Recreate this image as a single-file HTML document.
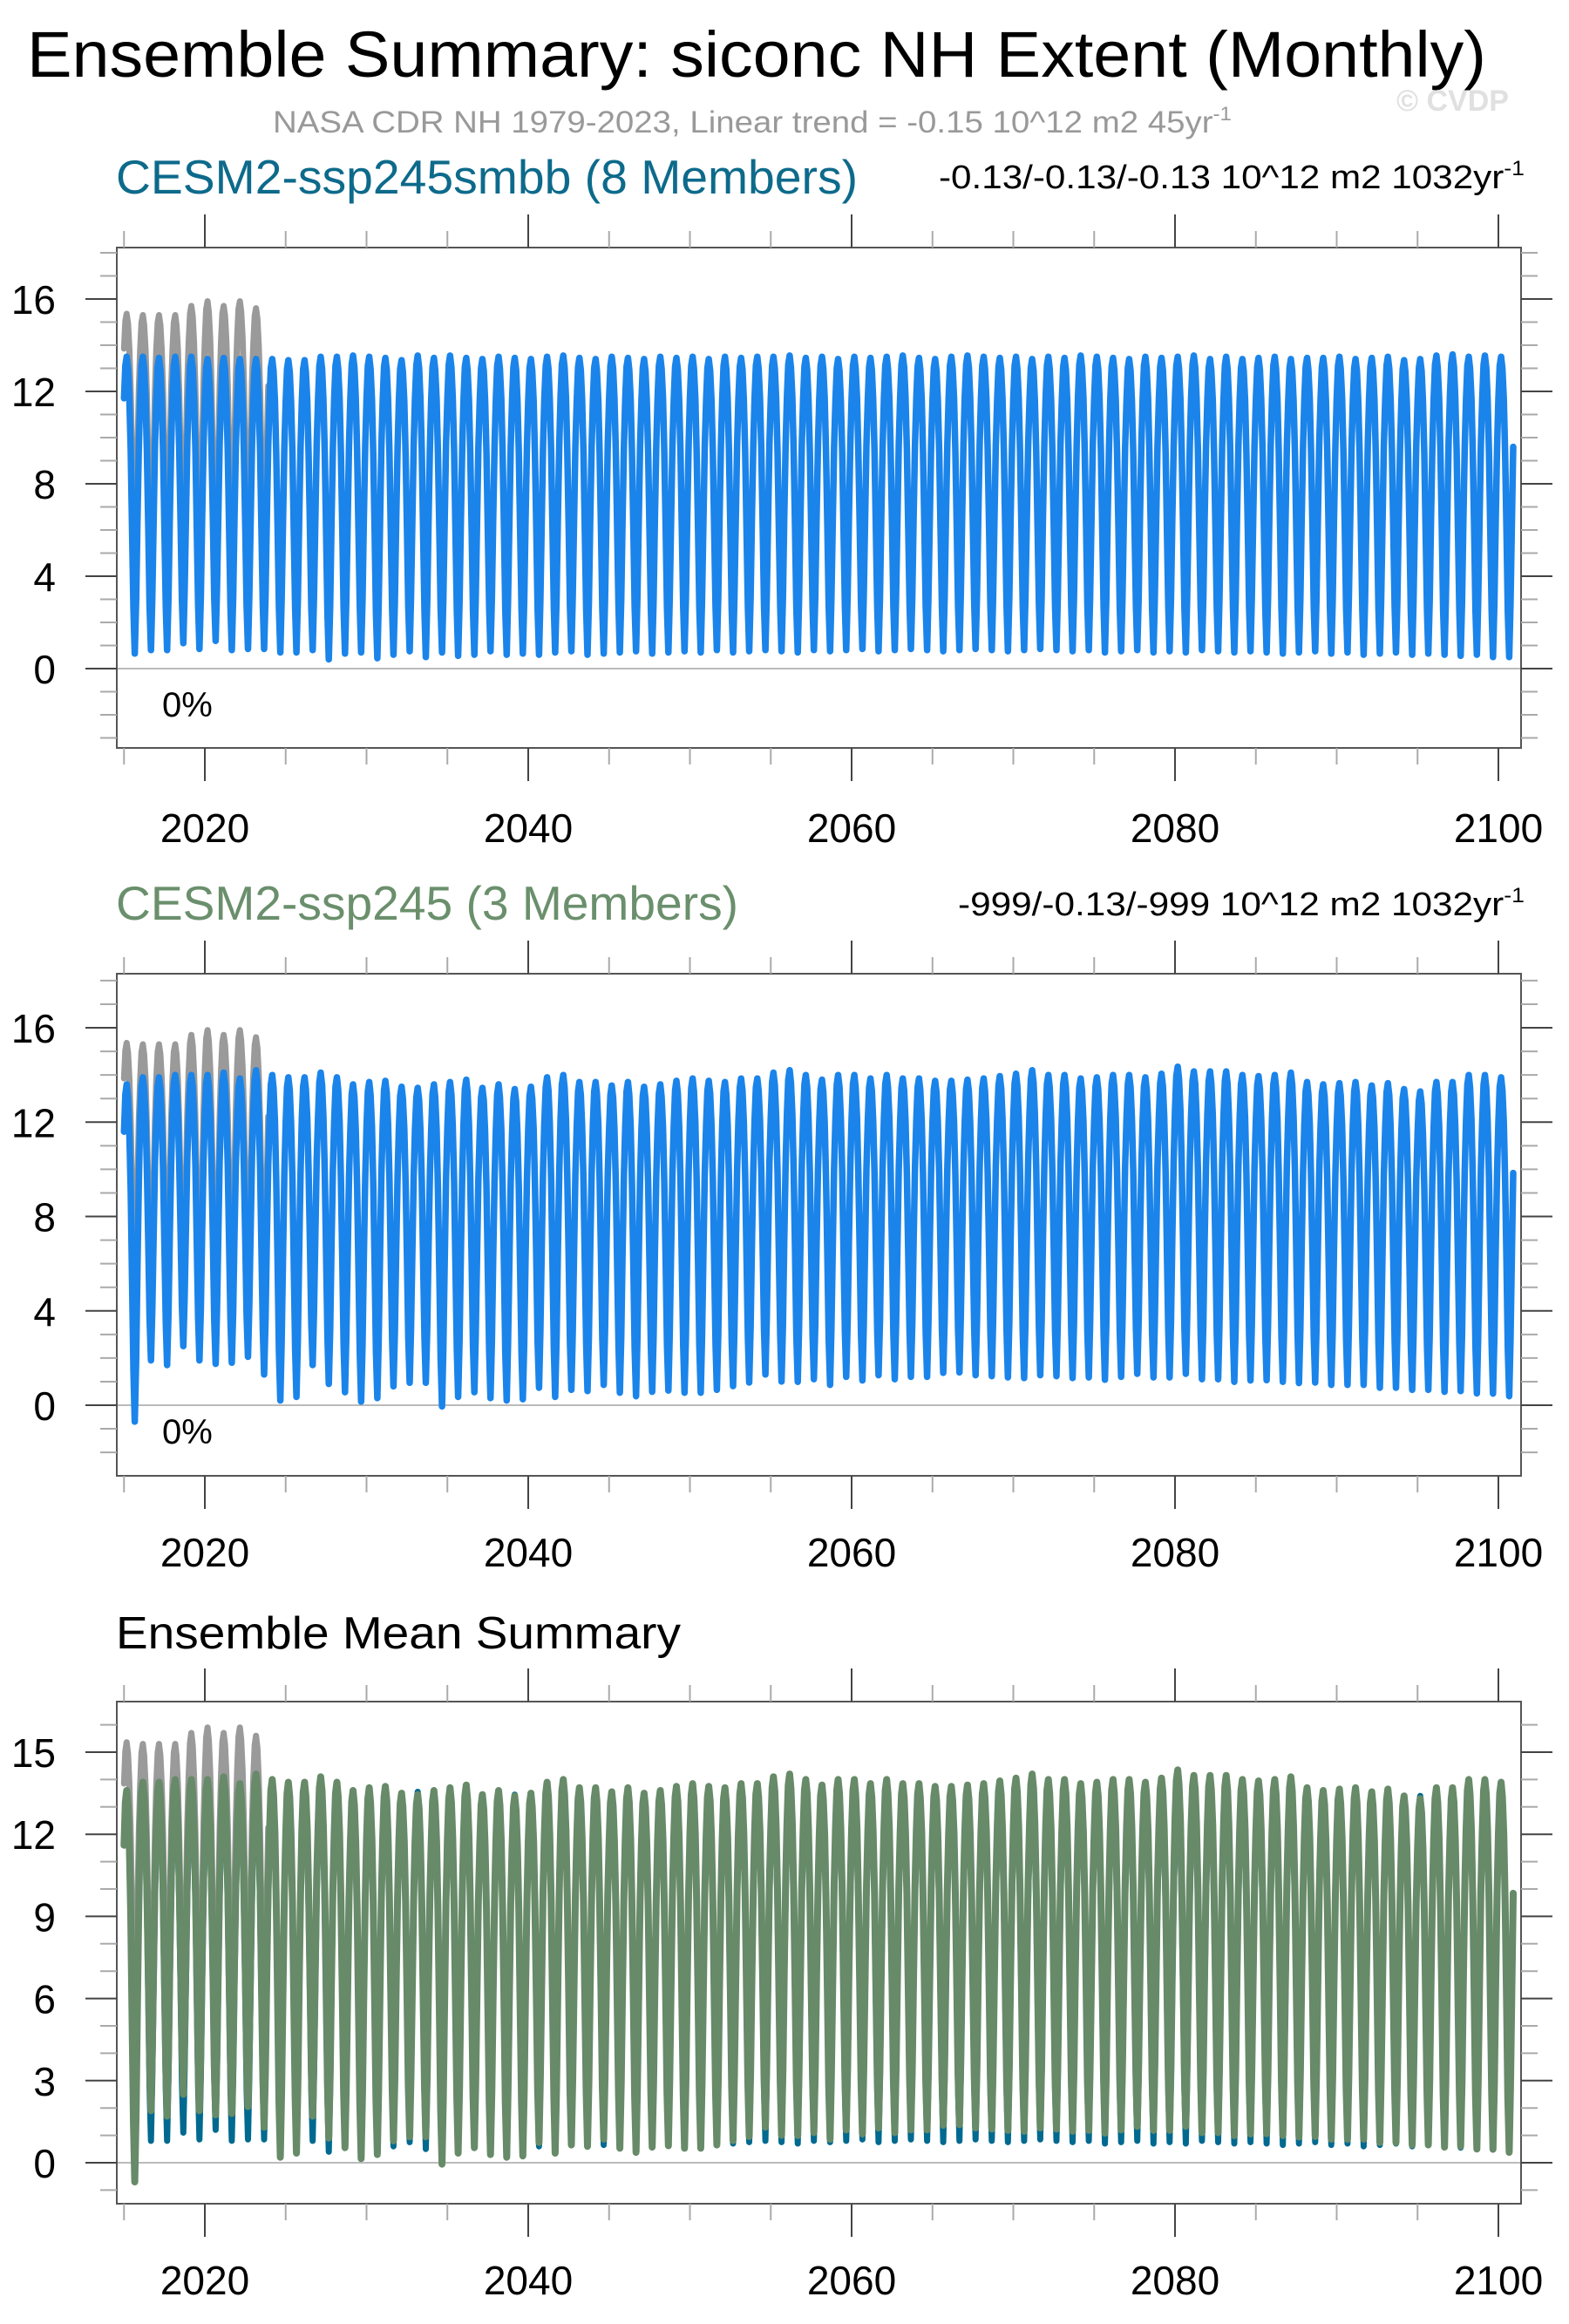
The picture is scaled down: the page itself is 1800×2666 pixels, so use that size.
<!DOCTYPE html>
<html><head><meta charset="utf-8"><title>Ensemble Summary: siconc NH Extent (Monthly)</title>
<style>
html,body{margin:0;padding:0;background:#fff;}
svg{display:block;font-family:"Liberation Sans",Arial,sans-serif;}
</style></head>
<body>
<svg id="chart" width="1800" height="2666" viewBox="0 0 1800 2666" xmlns="http://www.w3.org/2000/svg">
<rect x="0" y="0" width="1800" height="2666" fill="#fff"/>
<text x="31" y="88" font-size="74" fill="#000" textLength="1674" lengthAdjust="spacingAndGlyphs">Ensemble Summary: siconc NH Extent (Monthly)</text>
<text x="313" y="152" font-size="35" fill="#999" textLength="1100" lengthAdjust="spacingAndGlyphs">NASA CDR NH 1979-2023, Linear trend = -0.15 10^12 m2 45yr<tspan dy="-14" font-size="22">-1</tspan></text>
<text x="1602" y="127" font-size="34" font-weight="bold" fill="#e0e0e0">© CVDP</text>

<text x="133" y="222" font-size="55" fill="#0d6a8b" textLength="851" lengthAdjust="spacingAndGlyphs">CESM2-ssp245smbb (8 Members)</text>
<text x="1077" y="216" font-size="38" fill="#000" textLength="672" lengthAdjust="spacingAndGlyphs">-0.13/-0.13/-0.13 10^12 m2 1032yr<tspan dy="-15" font-size="24">-1</tspan></text>

<text x="133" y="1055" font-size="55" fill="#6a8f6c" textLength="714" lengthAdjust="spacingAndGlyphs">CESM2-ssp245 (3 Members)</text>
<text x="1099" y="1050" font-size="38" fill="#000" textLength="650" lengthAdjust="spacingAndGlyphs">-999/-0.13/-999 10^12 m2 1032yr<tspan dy="-15" font-size="24">-1</tspan></text>

<text x="133" y="1891" font-size="52" fill="#000" textLength="648" lengthAdjust="spacingAndGlyphs">Ensemble Mean Summary</text>

<g id="panels"></g>
</svg>
<script>
// ---- data ----
const years = [];
for (let y = 2015; y <= 2100; y++) years.push(y);
const monthShape = [0.86, 0.97, 1.0, 0.96, 0.86, 0.68, 0.42, 0.15, 0.0, 0.18, 0.45, 0.70];

const obsYears = [2015, 2016, 2017, 2018, 2019, 2020, 2021, 2022, 2023];
const obsPeaks = [15.36, 15.3, 15.3, 15.3, 15.7, 15.9, 15.7, 15.9, 15.6];
const obsMins = [4.6, 4.5, 4.8, 4.7, 4.3, 4.0, 4.9, 4.9, 4.4];

const ssp245Peaks = [13.6,13.9,13.9,14.0,14.0,14.0,14.1,13.85,14.2,14.0,13.9,13.9,14.1,13.9,13.6,13.7,13.75,13.5,13.45,13.6,13.7,13.8,13.45,13.6,
 13.4,13.5,13.9,14.0,13.7,13.7,13.55,13.7,13.5,13.6,13.75,13.85,13.75,13.7,13.85,13.85,14.1,14.2,14.0,13.8,14.0,14.0,13.85,14.0,13.85,13.85,
 13.75,13.75,13.8,13.85,13.95,14.05,14.2,14.0,14.0,13.85,13.9,14.0,14.0,13.9,14.05,14.35,14.15,14.15,14.15,14.0,13.95,14.0,14.1,13.7,13.6,
 13.65,13.7,13.55,13.65,13.4,13.3,13.7,13.7,14.0,14.0,13.9];
const ssp245Mins = [-0.7,1.9,1.7,2.5,1.9,1.75,1.8,2.05,1.3,0.2,0.35,1.7,0.9,0.55,0.15,0.3,0.8,0.95,0.95,-0.05,0.35,0.55,0.3,0.2,
 0.25,0.74,0.35,0.65,0.6,0.86,0.53,0.38,0.57,0.62,0.53,0.53,0.65,0.81,0.96,1.3,1.0,0.99,1.1,0.86,1.2,1.05,1.27,1.1,1.2,1.2,
 1.37,1.39,1.27,1.23,1.18,1.15,1.27,1.23,1.15,1.18,1.08,1.2,1.33,1.18,1.18,1.33,1.1,1.1,0.99,1.05,1.06,0.99,0.94,0.96,0.86,
 0.86,0.86,0.74,0.74,0.65,0.65,0.57,0.6,0.5,0.49,0.38];

const smbbPeaks = [13.5,13.5,13.45,13.5,13.5,13.4,13.45,13.4,13.4,13.4,13.35,13.35,13.5,13.5,13.55,13.5,13.45,13.35,13.55,13.45,
 13.55,13.45,13.4,13.5,13.45,13.4,13.5,13.55,13.45,13.4,13.5,13.45,13.4,13.5,13.45,13.5,13.4,13.5,13.45,13.5,13.5,13.55,13.45,13.5,
 13.4,13.5,13.45,13.5,13.55,13.45,13.4,13.5,13.55,13.5,13.45,13.5,13.4,13.5,13.45,13.55,13.5,13.45,13.4,13.5,13.45,13.5,13.55,13.4,
 13.5,13.4,13.45,13.5,13.4,13.45,13.45,13.5,13.4,13.45,13.5,13.35,13.4,13.55,13.6,13.5,13.55,13.5];
const smbbMins = [0.65,0.8,0.8,1.1,0.85,1.2,0.8,0.85,0.85,0.7,0.7,0.8,0.4,0.65,0.7,0.45,0.6,0.75,0.5,0.7,
 0.55,0.6,0.75,0.6,0.65,0.6,0.7,0.75,0.6,0.65,0.7,0.75,0.65,0.7,0.75,0.7,0.8,0.7,0.75,0.8,0.75,0.7,0.8,0.75,
 0.8,0.85,0.75,0.8,0.85,0.8,0.75,0.8,0.85,0.8,0.75,0.8,0.85,0.8,0.75,0.8,0.7,0.75,0.8,0.7,0.75,0.7,0.8,0.75,
 0.7,0.75,0.7,0.65,0.7,0.75,0.65,0.7,0.6,0.65,0.7,0.6,0.65,0.6,0.55,0.6,0.5,0.5];

const xTickLabels = ["2020", "2040", "2060", "2080", "2100"];
const yTickLabels12 = ["0", "4", "8", "12", "16"];
const yTickLabels3 = ["0", "3", "6", "9", "12", "15"];

// ---- build monthly series from annual extremes ----
function monthly(ys, peaks, mins) {
  const out = [];
  for (let i = 0; i < ys.length; i++) {
    for (let m = 0; m < 12; m++) {
      const mx = m >= 9 ? peaks[Math.min(i + 1, peaks.length - 1)] : peaks[i];
      out.push({ t: ys[i] + m / 12, v: mins[i] + monthShape[m] * (mx - mins[i]) });
    }
  }
  return out;
}
const obsSeries = monthly(obsYears, obsPeaks, obsMins);
const sspSeries = monthly(years, ssp245Peaks, ssp245Mins);
const smbbSeries = monthly(years, smbbPeaks, smbbMins);

// ---- layout ----
const NS = "http://www.w3.org/2000/svg";
const root = document.getElementById("panels");
const X0 = 134, X1 = 1745;
function xs(t) { return 235 + (t - 2020) * 18.55; }

const panels = [
  { id: "panel1", top: 284, bottom: 858, y0: 767, unit: 26.5, vmin: -3, vmax: 18, major: 4, labels: yTickLabels12, pct: 808, xlab: 966,
    lines: [{ s: obsSeries, c: "#9a9a9a", w: 7, n: "obs-line" }, { s: smbbSeries, c: "#1a84ea", w: 7.5, n: "smbb-mean-line" }] },
  { id: "panel2", top: 1117, bottom: 1693, y0: 1612, unit: 27.06, vmin: -2, vmax: 18, major: 4, labels: yTickLabels12, pct: 1642, xlab: 1797,
    lines: [{ s: obsSeries, c: "#9a9a9a", w: 7, n: "obs-line" }, { s: sspSeries, c: "#1a84ea", w: 7.5, n: "ssp245-mean-line" }] },
  { id: "panel3", top: 1952, bottom: 2528, y0: 2481, unit: 31.4, vmin: -1, vmax: 16, major: 3, labels: yTickLabels3, pct: null, xlab: 2632,
    lines: [{ s: obsSeries, c: "#9a9a9a", w: 7, n: "obs-line" }, { s: smbbSeries, c: "#00698f", w: 7, n: "smbb-mean-line" }, { s: sspSeries, c: "#678a68", w: 8, n: "ssp245-mean-line" }] }
];

function mk(tag, attrs, parent) {
  const e = document.createElementNS(NS, tag);
  for (const k in attrs) e.setAttribute(k, attrs[k]);
  parent.appendChild(e);
  return e;
}

panels.forEach(p => {
  const g = mk("g", {}, root);
  
  
  const ys = v => p.y0 - v * p.unit;
  const clipId = p.id + "-clip";
  const cp = mk("clipPath", { id: clipId }, g);
  mk("rect", { x: X0, y: p.top, width: X1 - X0, height: p.bottom - p.top }, cp);

  const zl = mk("line", { x1: X0, x2: X1, y1: ys(0), y2: ys(0), stroke: "#bbb", "stroke-width": 2 }, g);
  
  

  const lg = mk("g", { "clip-path": "url(#" + clipId + ")" }, g);
  p.lines.forEach(L => {
    const d = L.s.map((pt, i) => (i ? "L" : "M") + xs(pt.t).toFixed(1) + " " + ys(pt.v).toFixed(1)).join("");
    const path = mk("path", { d: d, fill: "none", stroke: L.c, "stroke-width": L.w, "stroke-linejoin": "round", "stroke-linecap": "round" }, lg);
    
    
  });

  const fr = mk("rect", { x: X0, y: p.top, width: X1 - X0, height: p.bottom - p.top, fill: "none", stroke: "#555", "stroke-width": 2 }, g);
  
  

  for (let v = p.vmin; v <= p.vmax; v++) {
    const y = ys(v);
    if (y < p.top - 1 || y > p.bottom + 1) continue;
    const isMaj = v % p.major === 0;
    const len = isMaj ? 36 : 19;
    const col = isMaj ? "#444" : "#aaa";
    const tl = mk("line", { x1: X0 - len, x2: X0, y1: y, y2: y, stroke: col, "stroke-width": 2 }, g);
    
    
    const tr = mk("line", { x1: X1, x2: X1 + len, y1: y, y2: y, stroke: col, "stroke-width": 2 }, g);
    
    
  }
  p.labels.forEach(lab => {
    const t = mk("text", { x: 64, y: ys(+lab) + 17, "font-size": 46, "text-anchor": "end", fill: "#000" }, g);
    t.textContent = lab;
    
    
  });

  for (let yr = 2015; yr <= 2100; yr += 5) {
    const x = xs(yr);
    const isMaj = yr % 20 === 0;
    const len = isMaj ? 38 : 19;
    const col = isMaj ? "#444" : "#aaa";
    const t1 = mk("line", { x1: x, x2: x, y1: p.top - len, y2: p.top, stroke: col, "stroke-width": 2 }, g);
    
    
    const t2 = mk("line", { x1: x, x2: x, y1: p.bottom, y2: p.bottom + len, stroke: col, "stroke-width": 2 }, g);
    
    
  }
  xTickLabels.forEach(lab => {
    const t = mk("text", { x: xs(+lab), y: p.xlab, "font-size": 46, "text-anchor": "middle", fill: "#000" }, g);
    t.textContent = lab;
    
    
  });

  if (p.pct) {
    const t = mk("text", { x: 186, y: p.pct + 14, "font-size": 40, fill: "#000" }, g);
    t.textContent = "0%";
    
    
  }
});
</script>
</body></html>
